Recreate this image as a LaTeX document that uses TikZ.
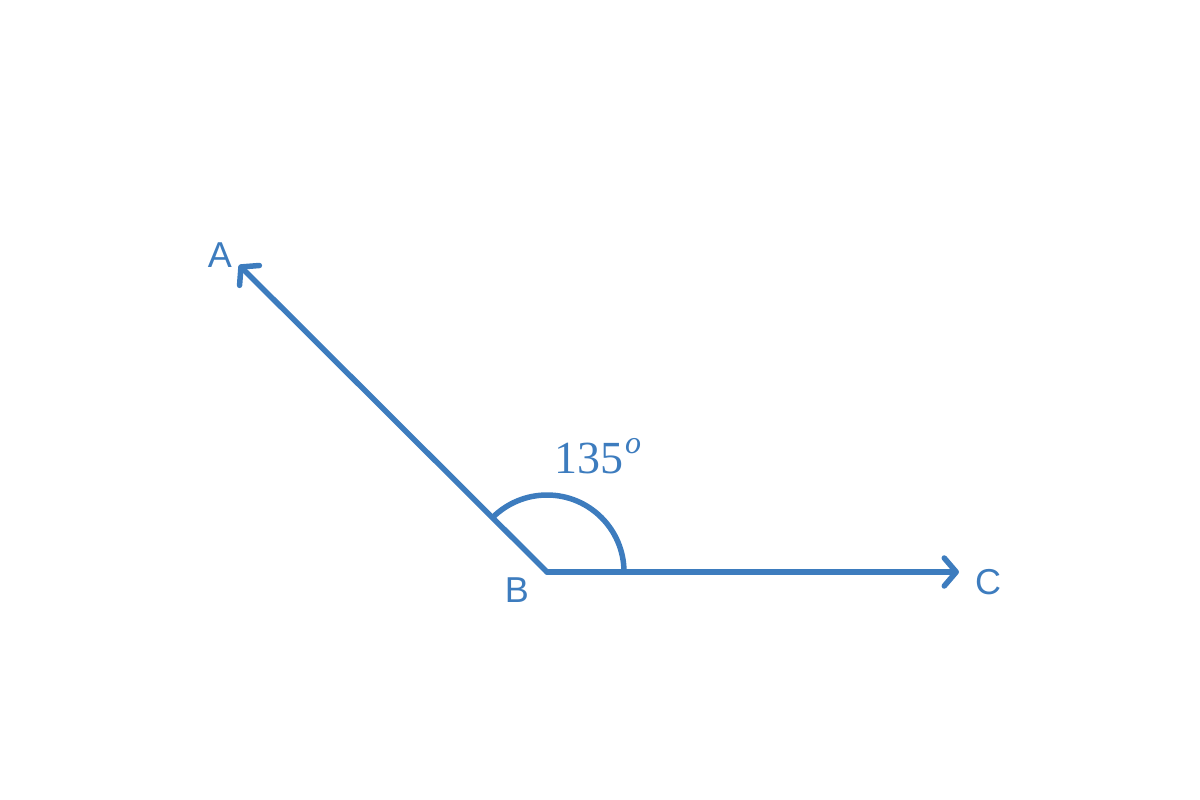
\documentclass[tikz,border=0pt]{standalone}
\usepackage{fontspec}
\setmainfont{Liberation Serif}
\newfontfamily\lsans{Liberation Sans}
\usetikzlibrary{arrows.meta}
\definecolor{rayblue}{RGB}{61,124,190}
\begin{document}
\begin{tikzpicture}[x=1pt,y=-1pt,
  ray/.style={draw=rayblue,line width=5.5pt,line cap=round,line join=round,
    -{Straight Barb[length=12pt,width=28pt,round]}},
  ptlabel/.style={text=rayblue,inner sep=0pt,font=\lsans\fontsize{36}{36}\selectfont},
  anglelabel/.style={text=rayblue,inner sep=0pt,font=\fontsize{46}{46}\selectfont}]
\useasboundingbox (0,0) rectangle (1200,800);
\coordinate (B) at (547,572);
\coordinate (A) at (239,265);
\coordinate (C) at (959,572);
\draw[ray] (B) -- (A);
\draw[ray] (B) -- (C);
\draw[draw=rayblue,line width=5.5pt] (B) ++(77,0) arc (0:-135:77);
\node[ptlabel] (lA) at (220,255) {A};
\node[ptlabel] (lB) at (517,590) {B};
\node[ptlabel] (lC) at (988,582) {C};
\node[anglelabel,anchor=base west] (ang) at (554,473) {135\kern2pt\raisebox{20pt}{\fontsize{32}{32}\selectfont\itshape o}};
\end{tikzpicture}
\end{document}
